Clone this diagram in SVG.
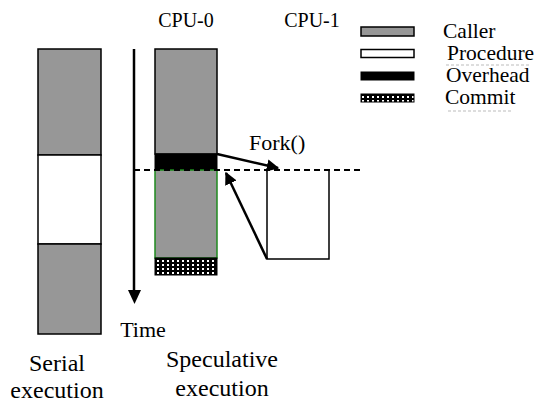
<svg xmlns="http://www.w3.org/2000/svg" width="534" height="403" viewBox="0 0 534 403" font-family="'Liberation Serif', 'DejaVu Serif', serif">
  <style>
    text { font-family: "Liberation Serif", "DejaVu Serif", serif; fill: #000; }
    .caller { fill: #979797; stroke: #000; stroke-width: 1.5; }
    .proc { fill: #fff; stroke: #000; stroke-width: 1.5; }
    .over { fill: #000; stroke: #000; stroke-width: 1; }
    .commit { fill: url(#dots); stroke: #000; stroke-width: 1; }
    .edge { stroke: #000; stroke-width: 2.5; fill: none; }
    .spell { stroke: #bbb; stroke-width: 1; stroke-dasharray: 3 2; }
  </style>
  <defs>
    <pattern id="dots" x="156" y="259" width="5" height="4" patternUnits="userSpaceOnUse">
      <rect width="5" height="4" fill="#000"/>
      <rect x="1" y="1" width="2" height="2" fill="#fff"/>
    </pattern>
    <marker id="head" viewBox="0 0 10 10" refX="9" refY="5" markerWidth="5" markerHeight="5" orient="auto" markerUnits="strokeWidth">
      <path d="M0,0 L10,5 L0,10 z" fill="#000"/>
    </marker>
  </defs>

  <!-- serial execution column -->
  <g id="serial">
    <rect class="caller" x="38" y="49" width="63" height="106"/>
    <rect class="proc" x="38" y="155" width="63" height="89"/>
    <rect class="caller" x="38" y="244" width="63" height="90"/>
    <text x="57" y="371" font-size="24" text-anchor="middle">Serial</text>
    <text x="57" y="398" font-size="24" text-anchor="middle">execution</text>
  </g>

  <!-- time axis -->
  <g id="time">
    <line x1="134" y1="49" x2="134" y2="292" stroke="#000" stroke-width="2.5"/>
    <path d="M128,290 L141,290 L134.5,304 z" fill="#000"/>
    <text x="143" y="337" font-size="22" text-anchor="middle">Time</text>
  </g>

  <!-- CPU-0 speculative column -->
  <g id="cpu0">
    <text x="186" y="27" font-size="20" text-anchor="middle">CPU-0</text>
    <rect class="caller" x="155" y="49" width="62" height="105"/>
    <rect class="over" x="155" y="154" width="62" height="16"/>
    <rect x="155" y="170" width="62" height="88" fill="#979797" stroke="#1f8a1f" stroke-width="1.5"/>
    <rect class="commit" x="155" y="258" width="62" height="17"/>
    <text x="222" y="367" font-size="24" text-anchor="middle">Speculative</text>
    <text x="222" y="396" font-size="24" text-anchor="middle">execution</text>
  </g>

  <!-- CPU-1 procedure -->
  <g id="cpu1">
    <text x="312" y="27" font-size="20" text-anchor="middle">CPU-1</text>
    <path d="M267,170 L267,259 L329,259 L329,170" class="proc"/>
    <text x="249" y="150" font-size="22">Fork()</text>
  </g>

  <!-- fork point reference line and connectors -->
  <g id="connectors">
    <line x1="134" y1="170" x2="364" y2="170" stroke="#000" stroke-width="1.8" stroke-dasharray="6 4"/>
    <line class="edge" x1="217" y1="154" x2="278" y2="168" marker-end="url(#head)"/>
    <line class="edge" x1="267" y1="259" x2="226" y2="173" marker-end="url(#head)"/>
  </g>

  <!-- legend -->
  <g id="legend">
    <rect class="caller" x="361" y="27" width="53" height="9"/>
    <rect class="proc" x="361" y="49.5" width="53" height="8"/>
    <rect class="over" x="361" y="72" width="53" height="8"/>
    <rect class="commit" x="361" y="94" width="53" height="8"/>
    <text x="443" y="38" font-size="21.5">Caller</text>
    <text x="447" y="60" font-size="21.5">Procedure</text>
    <line class="spell" x1="446" y1="65" x2="530" y2="65"/>
    <text x="446" y="82" font-size="21.5">Overhead</text>
    <text x="445" y="104" font-size="21.5">Commit</text>
    <line class="spell" x1="448" y1="111" x2="513" y2="111"/>
  </g>
</svg>
